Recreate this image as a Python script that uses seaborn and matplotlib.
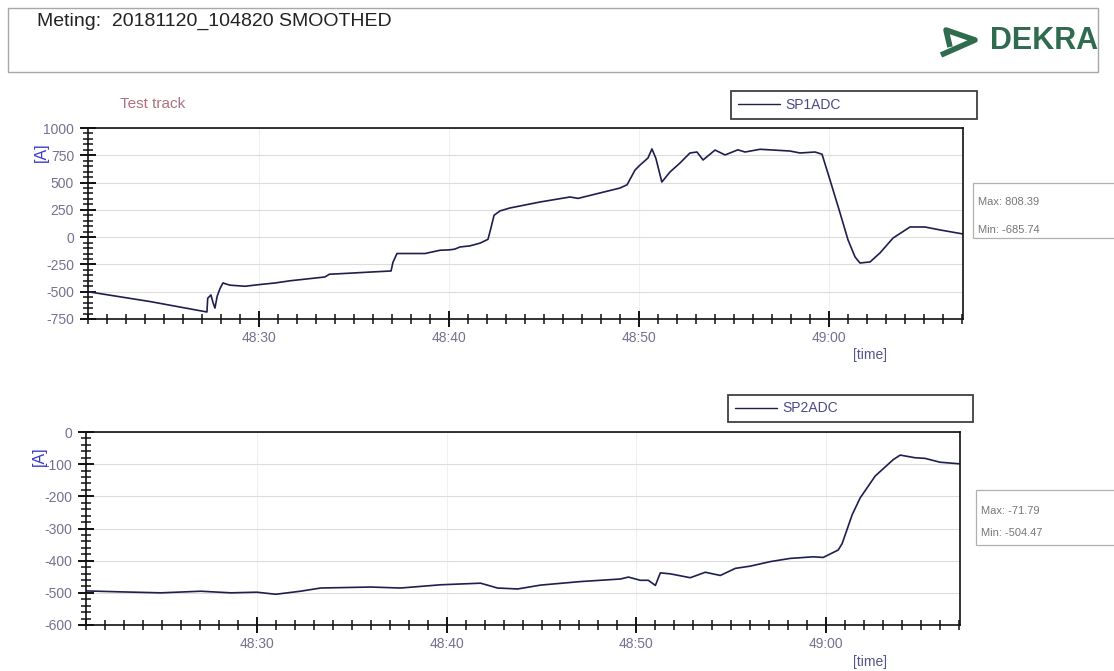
import numpy as np
import pandas as pd
import seaborn as sns
import matplotlib.pyplot as plt
from matplotlib.ticker import FixedLocator, MultipleLocator
from matplotlib.patches import Rectangle
from matplotlib.lines import Line2D

# ---------------- data (time in seconds after 10:48:00) ----------------
sp1_time = [21.0, 24.26, 27.26, 27.3, 27.47, 27.58, 27.68, 27.8, 27.95, 28.1, 28.47, 29.26,
            30.0, 30.84, 31.63, 32.68, 33.47, 33.7, 34.8, 35.84, 36.95, 37.05, 37.26, 37.95,
            38.74, 39.53, 40.0, 40.3, 40.58, 41.1, 41.63, 42.05, 42.2, 42.37, 42.68, 43.2,
            44.79, 46.37, 46.79, 47.95, 49.0, 49.37, 49.79, 50.05, 50.47, 50.68, 50.89, 51.2,
            51.63, 52.16, 52.68, 53.05, 53.37, 54.0, 54.53, 55.2, 55.58, 56.37, 57.95, 58.47,
            59.26, 59.63, 60.05, 60.58, 61.0, 61.37, 61.63, 62.16, 62.68, 63.37, 64.26, 65.05,
            65.84, 67.05]
sp1_value = [-500, -590, -685.74, -560, -530, -600, -650, -540, -470, -420, -440, -450,
             -435, -420, -400, -380, -365, -340, -330, -320, -310, -230, -150, -150,
             -150, -120, -117, -110, -90, -80, -55, -20, 80, 200, 240, 267,
             322, 368, 355, 405, 450, 480, 615, 660, 725, 808.39, 720, 505,
             597, 680, 771, 780, 707, 798, 753, 800, 780, 805, 789, 771,
             780, 760, 524, 221, -26, -182, -237, -227, -145, -8, 93, 93,
             66, 29]

sp2_time = [21.0, 22.84, 24.95, 27.05, 28.63, 30.0, 31.0, 32.3, 33.37, 36.0, 37.58, 39.68,
            41.79, 42.68, 43.74, 44.95, 47.05, 49.16, 49.58, 50.21, 50.63, 51.0, 51.26, 51.79,
            52.84, 53.63, 54.42, 55.21, 56.0, 57.05, 58.1, 59.32, 59.84, 60.63, 60.84, 61.37,
            61.79, 62.58, 63.53, 63.9, 64.68, 65.21, 66.0, 67.05]
sp2_value = [-494, -497, -500, -495, -500, -498, -504.47, -495, -485, -482, -485, -475,
             -470, -485, -488, -476, -465, -457, -451, -461, -461, -477, -438, -441,
             -453, -436, -446, -424, -417, -403, -393, -388, -390, -367, -347, -257,
             -205, -137, -86, -71.79, -80, -82, -94, -99]

x_ticks = [30, 40, 50, 60]
x_tick_labels = ["48:30", "48:40", "48:50", "49:00"]
sp1_yticks = [-750, -500, -250, 0, 250, 500, 750, 1000]
sp2_yticks = [0, -100, -200, -300, -400, -500, -600]
sp1_stats = ["Max: 808.39", "Min: -685.74"]
sp2_stats = ["Max: -71.79", "Min: -504.47"]

df1 = pd.DataFrame({"time": sp1_time, "value": sp1_value, "series": "SP1ADC"})
df2 = pd.DataFrame({"time": sp2_time, "value": sp2_value, "series": "SP2ADC"})

# ---------------- style ----------------
sns.set_style("white")
plt.rcParams['font.family'] = ['Liberation Sans', 'DejaVu Sans']
plt.rcParams['axes.unicode_minus'] = False

W, H = 1114, 671
fig = plt.figure(figsize=(W / 100, H / 100), dpi=100)
fig.patch.set_facecolor("white")

def fx(px):
    return px / W

def fy(py):
    return 1 - py / H

LINE = "#1e1e50"
TICKC = "#72728e"
AXC = "#111111"

def style_axes(ax, yticks, yminor, ylim):
    ax.set_xlim(21, 67.05)
    ax.set_ylim(*ylim)
    ax.xaxis.set_major_locator(FixedLocator(x_ticks))
    ax.set_xticklabels(x_tick_labels)
    ax.xaxis.set_minor_locator(MultipleLocator(1))
    ax.yaxis.set_major_locator(FixedLocator(yticks))
    ax.yaxis.set_minor_locator(MultipleLocator(yminor))
    ax.tick_params(axis="both", which="both", bottom=True, left=True, top=False, right=False)
    ax.tick_params(axis="both", which="major", direction="inout", length=12, width=1.4,
                   color=AXC, labelsize=10, labelcolor=TICKC, pad=4)
    ax.tick_params(axis="both", which="minor", direction="inout", length=7, width=1.1,
                   color=AXC)
    ax.tick_params(axis="x", which="major", pad=3)
    for s in ax.spines.values():
        s.set_color(AXC)
        s.set_linewidth(1.2)
    ax.grid(True, axis="y", color="#dcdcdc", linewidth=0.8)
    ax.grid(True, axis="x", color="#f0f0f0", linewidth=0.8)
    ax.set_axisbelow(True)
    ax.set_xlabel("")
    ax.set_ylabel("")

# ---------------- top panel ----------------
ax1 = fig.add_axes([fx(88), fy(319), fx(963 - 88), (319 - 128) / H])
sns.lineplot(data=df1, x="time", y="value", ax=ax1, color=LINE, linewidth=1.2,
             legend=False, estimator=None, sort=False)
style_axes(ax1, sp1_yticks, 50, (-750, 1000))

# ---------------- bottom panel ----------------
ax2 = fig.add_axes([fx(86), fy(625), fx(960 - 86), (625 - 432) / H])
sns.lineplot(data=df2, x="time", y="value", ax=ax2, color=LINE, linewidth=1.2,
             legend=False, estimator=None, sort=False)
style_axes(ax2, sp2_yticks, 20, (-600, 0))

# ---------------- legends ----------------
for ax, name, x0, x1, yc in [(ax1, "SP1ADC", 731, 977, 105), (ax2, "SP2ADC", 728, 973, 408.5)]:
    h = Line2D([], [], color=LINE, linewidth=1.0)
    leg = fig.legend([h], [name], loc="center left",
                     bbox_to_anchor=(fx(x0), fy(yc), fx(x1 - x0), 0.0),
                     mode="expand", borderaxespad=0, frameon=True, fancybox=False,
                     fontsize=10, handlelength=3.0, handletextpad=0.4,
                     borderpad=0.5, labelcolor="#4a4a8a")
    leg.get_frame().set_edgecolor("#111111")
    leg.get_frame().set_linewidth(1.3)

# ---------------- y-axis unit labels ----------------
fig.text(fx(41), fy(152), "[A]", rotation=90, color="#3a3ac8", fontsize=11.5,
         ha="center", va="center")
fig.text(fx(39), fy(456), "[A]", rotation=90, color="#3a3ac8", fontsize=11.5,
         ha="center", va="center")

# ---------------- time labels ----------------
fig.text(fx(870), fy(355), "[time]", color="#55558a", fontsize=10, ha="center", va="center")
fig.text(fx(870), fy(662), "[time]", color="#55558a", fontsize=10, ha="center", va="center")

# ---------------- stats boxes ----------------
for (x0, y0, y1, ymax, ymin, stats) in [(973, 183, 238, 202, 230, sp1_stats),
                                        (976, 490, 545, 511, 533, sp2_stats)]:
    fig.patches.append(Rectangle((fx(x0), fy(y1)), fx(W + 5 - x0), (y1 - y0) / H,
                                 transform=fig.transFigure, facecolor="white",
                                 edgecolor="#b0b0b0", linewidth=0.9))
    fig.text(fx(x0 + 5), fy(ymax), stats[0], color="#777777", fontsize=8, va="center")
    fig.text(fx(x0 + 5), fy(ymin), stats[1], color="#777777", fontsize=8, va="center")

# ---------------- header ----------------
fig.patches.append(Rectangle((fx(8), fy(72)), fx(1098 - 8), (72 - 8) / H,
                             transform=fig.transFigure, facecolor="white",
                             edgecolor="#a8a8a8", linewidth=1.0, zorder=0))
fig.text(fx(37), fy(21), "Meting:  20181120_104820 SMOOTHED", color="#222222",
         fontsize=14, ha="left", va="center")
fig.text(fx(120), fy(104), "Test track", color="#b07080", fontsize=11, ha="left", va="center")

# DEKRA logo
logo = Line2D([fx(950), fx(946), fx(975), fx(941)], [fy(47), fy(30), fy(40), fy(55)],
              transform=fig.transFigure, color="#2f6b4f", linewidth=4.0,
              solid_joinstyle="round", solid_capstyle="butt")
fig.lines.append(logo)
fig.text(fx(990), fy(41), "DEKRA", color="#2f6b4f", fontsize=22, fontweight="bold",
         ha="left", va="center")

fig.savefig("out.png", dpi=100, facecolor="white")
